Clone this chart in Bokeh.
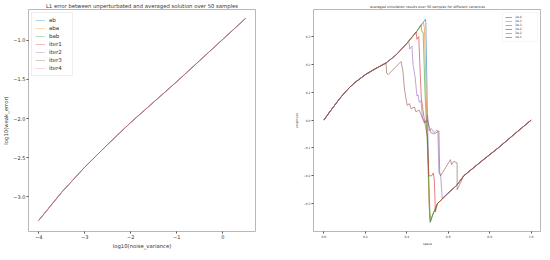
from bokeh.plotting import figure
from bokeh.layouts import row
from bokeh.models import Legend, LegendItem, FixedTicker
from bokeh.embed import file_html
from bokeh.resources import INLINE

# ---------------- left panel data ----------------
noise_log = [-4.0, -3.5, -3.0, -2.5, -2.0, -1.5, -1.0, -0.5, 0.0, 0.5]
err_ab    = [-3.30, -2.94, -2.62, -2.33, -2.05, -1.79, -1.53, -1.26, -0.99, -0.72]
err_aba   = [-3.30, -2.94, -2.62, -2.33, -2.05, -1.79, -1.53, -1.26, -0.99, -0.72]
err_bab   = [-3.30, -2.94, -2.62, -2.33, -2.05, -1.79, -1.53, -1.26, -0.99, -0.72]
err_iter1 = [-3.30, -2.94, -2.62, -2.33, -2.05, -1.79, -1.53, -1.26, -0.99, -0.72]
err_iter2 = [-3.30, -2.94, -2.62, -2.33, -2.05, -1.79, -1.53, -1.26, -0.99, -0.72]
err_iter3 = [-3.30, -2.94, -2.62, -2.33, -2.05, -1.79, -1.53, -1.26, -0.99, -0.72]
err_iter4 = [-3.30, -2.94, -2.62, -2.33, -2.05, -1.79, -1.53, -1.26, -0.99, -0.72]
left_names = ["ab", "aba", "bab", "iter1", "iter2", "iter3", "iter4"]
left_series = [err_ab, err_aba, err_bab, err_iter1, err_iter2, err_iter3, err_iter4]
left_xticks = [-4, -3, -2, -1, 0]
left_yticks = [-3.0, -2.5, -2.0, -1.5, -1.0]

# ---------------- right panel data ----------------
base_left_x = [0.0, 0.025, 0.05, 0.075, 0.1, 0.125, 0.15, 0.2, 0.25, 0.3, 0.35, 0.4, 0.45, 0.49]
base_left_y = [0.0, 0.026, 0.051, 0.076, 0.098, 0.118, 0.135, 0.163, 0.185, 0.205, 0.235, 0.275, 0.32, 0.362]
base_right_x = [0.513, 0.525, 0.548, 0.6, 0.64, 0.675, 0.76, 0.841, 0.92, 1.0]
base_right_y = [-0.367, -0.34, -0.30, -0.262, -0.235, -0.20, -0.148, -0.10, -0.05, 0.0]

var_labels = ["1e-4", "1e-3", "3e-3", "1e-2", "3e-2", "1e-1"]
dev_1e4_x = [0.49, 0.492, 0.5, 0.51]
dev_1e4_y = [0.362, 0.35, 0.0, -0.35]
dev_1e3_x = [0.48, 0.485, 0.497, 0.507, 0.515]
dev_1e3_y = [0.351, 0.33, 0.0, -0.30, -0.36]
dev_3e3_x = [0.468, 0.473, 0.479, 0.488, 0.5, 0.51, 0.514]
dev_3e3_y = [0.342, 0.318, 0.315, 0.10, -0.10, -0.30, -0.366]
dev_1e2_x = [0.445, 0.449, 0.458, 0.463, 0.47, 0.485, 0.5, 0.506, 0.52, 0.528, 0.533, 0.538]
dev_1e2_y = [0.316, 0.29, 0.30, 0.20, 0.08, 0.0, -0.06, -0.20, -0.20, -0.19, -0.215, -0.33]
dev_3e2_x = [0.41, 0.414, 0.425, 0.43, 0.44, 0.449, 0.455, 0.46, 0.468, 0.476, 0.49, 0.5, 0.508,
             0.518, 0.532, 0.545, 0.55, 0.555, 0.563, 0.571]
dev_3e2_y = [0.284, 0.255, 0.265, 0.20, 0.156, 0.087, 0.09, 0.064, 0.07, 0.007, -0.01, 0.018, -0.039,
             -0.03, -0.045, -0.035, -0.04, -0.188, -0.194, -0.28]
dev_1e1_x = [0.3, 0.303, 0.31, 0.372, 0.381, 0.389, 0.402, 0.413, 0.421, 0.437, 0.444, 0.46, 0.476,
             0.484, 0.5, 0.516, 0.532, 0.555, 0.559, 0.563, 0.611, 0.616, 0.627, 0.643, 0.643]
dev_1e1_y = [0.205, 0.168, 0.163, 0.21, 0.179, 0.11, 0.053, 0.059, 0.041, 0.047, 0.03, 0.036, 0.007,
             -0.01, 0.0, -0.045, -0.05, -0.039, -0.194, -0.20, -0.142, -0.16, -0.148, -0.154, -0.25]
departs = [0.49, 0.47, 0.46, 0.44, 0.40, 0.30]
rejoins = [0.512, 0.52, 0.52, 0.54, 0.58, 0.65]
devs = [(dev_1e4_x, dev_1e4_y), (dev_1e3_x, dev_1e3_y), (dev_3e3_x, dev_3e3_y),
        (dev_1e2_x, dev_1e2_y), (dev_3e2_x, dev_3e2_y), (dev_1e1_x, dev_1e1_y)]
right_xticks = [0.0, 0.2, 0.4, 0.6, 0.8, 1.0]
right_yticks = [-0.3, -0.2, -0.1, 0.0, 0.1, 0.2, 0.3]

colors = ["#1f77b4", "#ff7f0e", "#2ca02c", "#d62728", "#9467bd", "#8c564b", "#e377c2"]
FONT = "DejaVu Sans"


def mpl_label(v, fmt):
    return fmt.format(v).replace("-", "\u2212")


def style(p, xt, yt, xfmt, yfmt, tick_fs, label_fs):
    p.outline_line_color = "#b8b8b8"
    p.outline_line_width = 1
    p.xgrid.visible = False
    p.ygrid.visible = False
    p.xaxis.ticker = FixedTicker(ticks=xt)
    p.yaxis.ticker = FixedTicker(ticks=yt)
    p.xaxis.major_label_overrides = {v: mpl_label(v, xfmt) for v in xt}
    p.yaxis.major_label_overrides = {v: mpl_label(v, yfmt) for v in yt}
    for ax in p.axis:
        ax.axis_line_color = None
        ax.major_tick_out = 2
        ax.major_tick_in = 0
        ax.minor_tick_line_color = None
        ax.major_tick_line_color = "#555555"
        ax.major_label_text_font = FONT
        ax.major_label_text_font_size = tick_fs
        ax.major_label_text_color = "#333333"
        ax.major_label_standoff = 1
        ax.axis_label_text_font = FONT
        ax.axis_label_text_font_size = label_fs
        ax.axis_label_text_font_style = "normal"
        ax.axis_label_text_color = "#333333"
        ax.axis_label_standoff = 1
    p.title.text_font = FONT
    p.title.text_font_style = "normal"
    p.title.text_color = "#333333"
    p.title.align = "center"
    p.title.standoff = 1
    p.title.offset = 0


# ---------------- left figure ----------------
p1 = figure(frame_width=227, frame_height=222, x_range=(-4.22, 0.71), y_range=(-3.44, -0.61),
            output_backend="svg", toolbar_location=None,
            min_border_left=0, min_border_right=2, min_border_top=0, min_border_bottom=0,
            title="L1 error between unperturbated and averaged solution over 50 samples")
style(p1, left_xticks, left_yticks, "{:.0f}", "{:.1f}", "5px", "5.3px")
p1.title.text_font_size = "5.3px"
p1.xaxis.axis_label = "log10(noise_variance)"
p1.yaxis.axis_label = "log10(weak_error)"

items1 = []
for name, ys, c in zip(left_names, left_series, colors):
    r = p1.line(noise_log, ys, line_color=c, line_width=0.8, line_alpha=0.4)
    items1.append(LegendItem(label=name, renderers=[r]))
leg1 = Legend(items=items1, location="top_left")
leg1.label_text_font = FONT
leg1.label_text_font_size = "5.5px"
leg1.label_text_color = "#333333"
leg1.glyph_width = 10
leg1.glyph_height = 8
leg1.label_height = 8
leg1.label_standoff = 4
leg1.spacing = 0
leg1.padding = 3
leg1.margin = 3
leg1.border_line_color = "#dddddd"
leg1.background_fill_alpha = 0.8
p1.add_layout(leg1)

# ---------------- right figure ----------------
p2 = figure(frame_width=228, frame_height=222, x_range=(-0.05, 1.05), y_range=(-0.40, 0.397),
            output_backend="svg", toolbar_location=None,
            min_border_left=56, min_border_right=0, min_border_top=0, min_border_bottom=0,
            title="averaged simulation results over 50 samples for different variances")
style(p2, right_xticks, right_yticks, "{:.1f}", "{:.1f}", "3px", "3px")
p2.title.text_font_size = "3.4px"
p2.xaxis.axis_label = "space"
p2.yaxis.axis_label = "amplitude"

items2 = []
for lab, (dx, dy), dep, rej, c in zip(var_labels, devs, departs, rejoins, colors):
    xs = [x for x in base_left_x if x < dep] + dx + [x for x in base_right_x if x > rej]
    ys = [y for x, y in zip(base_left_x, base_left_y) if x < dep] + dy + \
         [y for x, y in zip(base_right_x, base_right_y) if x > rej]
    r = p2.line(xs, ys, line_color=c, line_width=0.7, line_alpha=0.85)
    items2.append(LegendItem(label=lab, renderers=[r]))
leg2 = Legend(items=items2, location="top_right")
leg2.label_text_font = FONT
leg2.label_text_font_size = "3px"
leg2.label_text_color = "#333333"
leg2.glyph_width = 7
leg2.glyph_height = 4
leg2.label_height = 4
leg2.label_standoff = 3
leg2.spacing = 0
leg2.padding = 2
leg2.margin = 3
leg2.border_line_color = "#eeeeee"
p2.add_layout(leg2)

layout = row(p1, p2)
open("out.html", "w").write(file_html(layout, INLINE))
